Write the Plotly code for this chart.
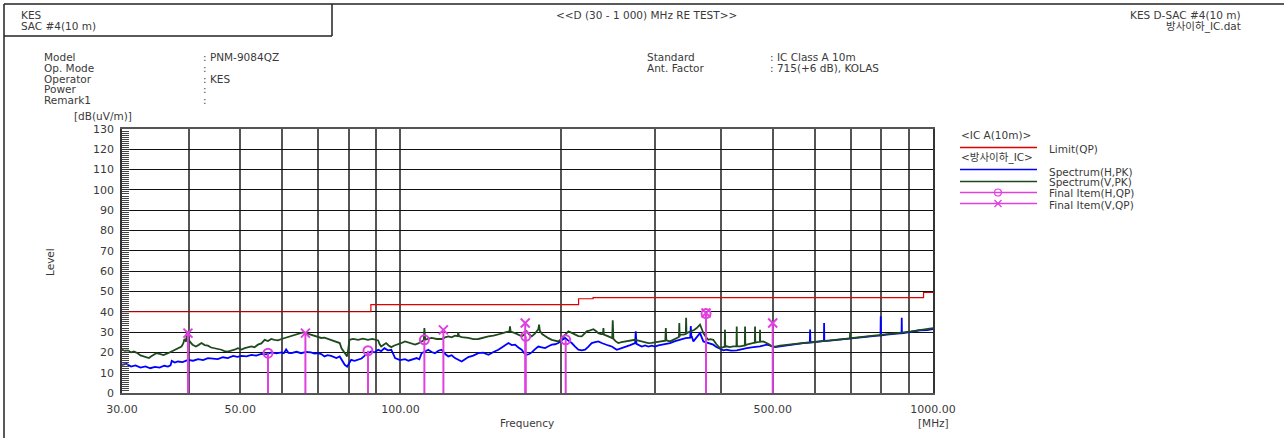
import plotly.graph_objects as go

# ---------------- measurement data ----------------
limit_freq = [30, 88, 216, 230, 960, 1000]
limit_level = [40.0, 43.5, 46.4, 47.0, 49.5, 49.5]

# Spectrum (H, PK) as (MHz, dB(uV/m))
h_spectrum = [
    (30.0, 13.9), (30.6, 14.3), (31.2, 13.0), (31.8, 13.6), (32.5, 12.5), (33.2, 13.1),
    (33.9, 12.2), (34.6, 12.9), (35.3, 12.5), (36.0, 13.4), (36.6, 13.0), (37.0, 13.6),
    (37.2, 15.8), (37.7, 15.0), (38.2, 15.5), (39.0, 15.2), (39.9, 16.3), (40.8, 15.9),
    (41.7, 16.7), (42.6, 16.2), (43.5, 17.2), (44.4, 16.8), (45.4, 16.7), (46.4, 17.6),
    (47.4, 17.2), (48.5, 18.3), (49.4, 17.8), (50.3, 18.3), (51.4, 18.0), (52.5, 18.8),
    (53.6, 18.4), (54.8, 19.3), (56.0, 19.0), (57.2, 20.0), (58.5, 19.5), (59.8, 20.0),
    (60.4, 19.6), (61.0, 21.5), (61.6, 19.8), (62.4, 19.6), (63.8, 20.3), (65.1, 19.6),
    (66.5, 20.2), (67.9, 20.0), (69.0, 19.4), (70.0, 19.6), (71.0, 19.2), (72.0, 18.0),
    (73.0, 18.6), (74.1, 18.3), (75.0, 17.6), (75.8, 17.2), (76.9, 18.0), (77.8, 16.0),
    (78.6, 13.9), (79.4, 13.0), (80.1, 14.5), (80.8, 16.3), (82.0, 15.8), (83.3, 16.3),
    (84.5, 17.0), (85.6, 18.3), (86.9, 19.6), (88.1, 20.5), (89.4, 20.0), (90.8, 21.3),
    (92.0, 20.6), (93.3, 22.1), (94.7, 21.0), (96.1, 21.3), (97.0, 19.0), (97.7, 17.2),
    (99.8, 16.2), (102.0, 16.7), (103.5, 15.9), (105.0, 16.3), (107.3, 17.2), (108.5, 16.6),
    (109.6, 19.6), (111.2, 20.4), (112.8, 21.3), (114.4, 20.2), (116.1, 19.6), (117.8, 20.8),
    (119.5, 21.3), (121.2, 19.3), (123.0, 18.0), (124.8, 18.6), (126.6, 17.2), (128.4, 16.4),
    (130.3, 15.5), (132.2, 16.6), (134.1, 17.7), (137.0, 18.4), (140.0, 19.6), (143.0, 19.9),
    (146.3, 18.8), (149.5, 20.2), (152.7, 21.3), (156.0, 22.9), (159.5, 24.6), (161.8, 23.6),
    (164.1, 23.8), (166.5, 22.4), (168.9, 21.3), (170.7, 19.6), (172.6, 18.8), (174.5, 19.2),
    (176.4, 20.0), (179.0, 21.6), (181.5, 22.9), (184.2, 22.5), (186.9, 22.1), (189.6, 23.0),
    (192.4, 23.8), (195.1, 24.0), (197.9, 24.6), (200.8, 26.0), (203.8, 27.1), (206.7, 25.8),
    (209.7, 24.6), (212.8, 22.8), (215.8, 21.3), (219.0, 21.0), (222.2, 21.3), (225.4, 22.8),
    (228.6, 24.6), (232.0, 25.0), (235.3, 25.4), (238.7, 24.6), (242.2, 23.8), (245.7, 23.4),
    (249.3, 22.9), (252.0, 22.0), (254.8, 21.3), (259.4, 22.0), (264.1, 22.9), (270.0, 23.6),
    (275.8, 24.6), (276.6, 30.4), (277.4, 24.2), (283.9, 22.9), (288.0, 23.4), (292.1, 22.9),
    (296.3, 23.3), (300.6, 22.9), (305.0, 23.5), (309.4, 23.8), (315.0, 24.2), (320.8, 24.6),
    (328.0, 25.5), (335.0, 26.2), (343.0, 27.0), (350.0, 27.2), (350.9, 33.0), (351.8, 27.4),
    (352.3, 27.9), (354.8, 25.4), (360.0, 27.5), (365.2, 29.5), (370.5, 25.4), (378.5, 24.5),
    (386.7, 23.8), (392.0, 22.6), (398.1, 21.6), (404.0, 21.0), (409.7, 21.3), (418.0, 20.9),
    (428.0, 21.0), (437.0, 21.6), (447.0, 22.1), (460.0, 22.6), (473.4, 23.0), (487.3, 23.8),
    (497.9, 23.0), (506.0, 22.6), (516.3, 23.0), (527.0, 23.4), (539.0, 23.8), (555.0, 24.2),
    (570.9, 24.6), (587.0, 24.8), (587.8, 31.2), (588.6, 24.8), (600.0, 25.0), (613.7, 25.4),
    (624.0, 25.6), (624.5, 34.5), (625.0, 25.6), (640.0, 25.8), (659.5, 26.2), (684.0, 26.7),
    (708.8, 27.1), (735.0, 27.4), (761.8, 27.9), (780.0, 28.1), (797.0, 28.3), (797.8, 37.8),
    (798.6, 28.3), (818.8, 28.7), (845.0, 29.0), (873.0, 29.4), (873.6, 37.0), (874.2, 29.4),
    (879.9, 29.5), (910.0, 30.1), (945.6, 30.9), (975.0, 31.0), (1000.0, 31.5),
]

# Spectrum (V, PK) as (MHz, dB(uV/m))
v_spectrum = [
    (30.0, 21.3), (30.4, 20.8), (30.8, 21.0), (31.2, 20.0), (31.6, 20.4), (32.1, 19.6),
    (32.5, 18.5), (33.0, 18.0), (33.4, 17.5), (33.7, 17.2), (34.0, 18.0), (34.4, 18.8),
    (34.8, 19.6), (35.3, 19.3), (35.9, 18.7), (36.6, 19.6), (37.1, 20.3), (37.6, 21.3),
    (38.2, 22.0), (38.8, 22.9), (39.1, 24.4), (39.3, 26.6), (39.6, 25.2), (39.7, 30.4),
    (39.9, 27.0), (40.2, 25.4), (40.7, 23.8), (41.3, 22.9), (41.8, 23.7), (42.3, 24.6),
    (42.9, 23.6), (43.5, 23.3), (44.1, 22.4), (44.8, 22.1), (45.4, 21.6), (46.1, 21.3),
    (46.7, 20.6), (47.4, 20.4), (48.1, 20.9), (48.8, 21.3), (49.5, 22.1), (50.3, 21.4),
    (51.0, 22.1), (51.7, 22.6), (52.5, 22.9), (53.2, 22.5), (54.0, 23.8), (54.8, 24.4),
    (55.6, 26.2), (56.4, 25.6), (57.2, 26.6), (58.0, 26.2), (58.9, 25.9), (59.8, 26.6),
    (60.6, 27.1), (61.5, 27.6), (62.4, 27.9), (63.5, 28.6), (64.7, 29.5), (65.6, 29.8),
    (66.5, 29.5), (67.7, 28.8), (68.9, 28.2), (70.0, 27.6), (71.0, 27.1), (72.0, 27.3),
    (73.1, 26.6), (74.1, 26.0), (75.2, 25.4), (76.0, 25.0), (76.9, 24.6), (77.5, 22.0),
    (78.6, 19.6), (79.4, 18.0), (79.8, 21.5), (80.2, 26.2), (81.5, 26.6), (83.3, 26.2),
    (85.0, 26.8), (86.9, 26.2), (88.5, 26.6), (90.8, 25.9), (91.4, 24.0), (92.0, 22.9),
    (93.0, 23.8), (94.0, 24.6), (95.0, 23.4), (96.1, 22.6), (97.4, 23.4), (98.6, 23.8),
    (100.0, 24.4), (102.0, 25.4), (104.2, 24.6), (106.5, 23.8), (108.0, 24.4), (109.6, 25.5),
    (110.6, 26.0), (110.9, 32.0), (111.3, 26.2), (112.8, 26.8), (114.5, 27.1), (117.0, 26.6),
    (119.5, 26.6), (121.2, 27.4), (123.0, 27.9), (124.8, 27.4), (126.6, 28.2), (128.0, 28.0),
    (128.4, 29.8), (128.8, 28.0), (130.3, 27.5), (134.1, 27.1), (137.0, 26.5), (140.0, 26.6),
    (143.0, 27.4), (146.3, 27.9), (149.5, 28.3), (152.7, 28.7), (155.0, 29.3), (157.2, 29.8),
    (160.2, 30.4), (160.6, 32.8), (161.0, 30.2), (164.1, 29.5), (166.5, 28.5), (168.9, 27.9),
    (171.0, 28.8), (172.6, 30.4), (174.5, 28.8), (176.4, 27.9), (179.0, 29.4), (181.5, 31.4),
    (182.1, 33.7), (182.7, 30.6), (184.5, 29.0), (186.9, 27.9), (189.6, 27.0), (192.4, 26.2),
    (195.1, 25.8), (197.9, 25.4), (200.0, 26.4), (202.3, 27.9), (204.5, 29.4), (206.7, 30.4),
    (209.7, 29.6), (212.8, 28.7), (215.8, 28.0), (219.0, 27.9), (221.4, 29.0), (223.8, 30.4),
    (227.0, 30.8), (230.3, 31.4), (232.8, 30.5), (235.3, 29.5), (238.0, 29.0), (240.0, 29.0),
    (240.5, 32.0), (241.0, 28.8), (245.7, 27.9), (249.8, 27.0), (250.4, 35.8), (251.1, 26.6),
    (253.8, 25.4), (256.5, 24.6), (260.0, 25.0), (264.1, 25.4), (270.0, 25.8), (275.8, 26.2),
    (280.0, 25.8), (283.9, 25.4), (288.0, 25.0), (292.1, 24.6), (296.3, 24.7), (300.6, 24.9),
    (305.0, 25.2), (309.4, 25.4), (314.3, 25.8), (315.0, 32.0), (315.7, 25.9), (320.8, 25.4),
    (325.5, 26.2), (330.3, 27.1), (333.4, 27.6), (333.9, 34.5), (334.4, 27.8), (335.0, 28.7),
    (340.0, 28.8), (343.4, 29.0), (343.9, 37.0), (344.4, 29.2), (344.8, 29.5), (348.0, 30.0),
    (350.9, 30.4), (352.3, 30.4), (356.0, 31.0), (360.0, 32.0), (363.0, 33.0), (365.2, 33.7),
    (368.0, 31.5), (370.5, 29.5), (374.0, 27.8), (378.5, 26.2), (382.0, 26.5), (386.7, 26.2),
    (392.0, 24.0), (398.1, 22.1), (404.0, 22.6), (406.3, 22.8), (406.8, 31.2), (407.3, 22.8),
    (409.7, 23.0), (415.0, 22.6), (421.8, 23.0), (427.5, 23.0), (428.0, 32.8), (428.5, 23.0),
    (434.2, 23.0), (440.0, 23.2), (443.2, 23.4), (443.7, 32.8), (444.2, 23.5), (447.0, 23.8),
    (453.0, 24.2), (460.0, 24.6), (462.8, 24.8), (463.3, 32.8), (463.8, 24.8), (468.0, 25.0),
    (473.0, 25.2), (473.4, 31.2), (473.8, 25.2), (480.0, 25.4), (487.3, 24.6), (492.0, 24.0),
    (497.9, 23.0), (506.0, 22.8), (516.3, 23.3), (527.0, 23.6), (539.0, 23.8), (555.0, 24.2),
    (570.9, 24.6), (590.0, 25.0), (613.7, 25.4), (636.0, 25.8), (659.5, 26.2), (680.0, 26.6),
    (698.3, 26.9), (698.8, 29.9), (699.3, 26.9), (708.8, 27.1), (735.0, 27.5), (761.8, 27.9),
    (790.0, 28.3), (818.8, 28.7), (850.0, 29.2), (879.9, 29.8), (910.0, 30.3), (945.6, 30.9),
    (975.0, 31.4), (1000.0, 32.0),
]

# Final (QP) items
final_h_freq = [56.4, 86.9, 110.9, 171.9, 204.3, 374.8]
final_h_level = [19.6, 20.8, 26.2, 27.9, 26.2, 39.1]
final_v_freq = [39.9, 66.3, 120.4, 171.5, 374.8, 500.0]
final_v_level = [29.5, 29.5, 31.1, 34.5, 39.4, 34.5]

x_grid = [30, 40, 50, 60, 70, 80, 90, 100, 200, 300, 400, 500, 600, 700, 800, 900, 1000]
x_labels = {30: "30.00", 50: "50.00", 100: "100.00", 500: "500.00", 1000: "1000.00"}
y_ticks = list(range(0, 131, 10))

# ---------------- styling ----------------
FONT = "DejaVu Sans, Noto Sans CJK KR, sans-serif"
TXT = "#3a3a3a"
MAGENTA = "#E040E0"
BLUE = "#0000FF"
GREEN = "#1E4A1E"
RED = "#E00000"

W, H = 1284, 438
L, R, T, B = 122, 933, 129, 393


def px(x):
    return (x - L) / (R - L)


def py(y):
    return (B - y) / (B - T)


fig = go.Figure()

hf, hl = zip(*h_spectrum)
vf, vl = zip(*v_spectrum)

fig.add_trace(go.Scatter(x=hf, y=hl, mode="lines", line=dict(color=BLUE, width=1.8),
                         name="Spectrum(H,PK)"))
fig.add_trace(go.Scatter(x=vf, y=vl, mode="lines", line=dict(color=GREEN, width=1.8),
                         name="Spectrum(V,PK)"))
fig.add_trace(go.Scatter(x=limit_freq, y=limit_level, mode="lines", line_shape="hv",
                         line=dict(color=RED, width=1.2), name="Limit(QP)"))


def stems(freqs, levels):
    xs, ys = [], []
    for f, v in zip(freqs, levels):
        xs += [f, f, None]
        ys += [0, v, None]
    return xs, ys


for freqs, levels, sym, name in [
    (final_h_freq, final_h_level, "circle-open", "Final Item(H,QP)"),
    (final_v_freq, final_v_level, "x-thin-open", "Final Item(V,QP)"),
]:
    sx, sy = stems(freqs, levels)
    fig.add_trace(go.Scatter(x=sx, y=sy, mode="lines", line=dict(color=MAGENTA, width=2),
                             showlegend=False, hoverinfo="skip"))
    fig.add_trace(go.Scatter(x=freqs, y=levels, mode="markers", name=name,
                             marker=dict(symbol=sym, size=9, color=MAGENTA,
                                         line=dict(color=MAGENTA, width=2))))

fig.update_xaxes(
    type="log", range=[1.4771213, 3.0],
    tickmode="array", tickvals=x_grid,
    ticktext=[x_labels.get(v, "") for v in x_grid],
    showgrid=True, gridcolor="#555555", gridwidth=1.6,
    showline=True, linecolor="#555555", linewidth=1.5, mirror=True,
    ticks="", ticklabelstandoff=5,
    tickfont=dict(family=FONT, size=11, color=TXT),
    zeroline=False,
)
fig.update_yaxes(
    range=[0, 130], tickmode="array", tickvals=y_ticks,
    showgrid=True, gridcolor="#111111", gridwidth=1,
    showline=True, linecolor="#333333", linewidth=1.5, mirror=True,
    ticks="inside", ticklen=8, tickcolor="#333333", tickwidth=1,
    minor=dict(dtick=1, ticks="inside", ticklen=7, tickcolor="#444444", tickwidth=1, showgrid=False),
    ticklabelstandoff=4,
    tickfont=dict(family=FONT, size=11, color=TXT),
    zeroline=False,
)

shapes = []
ann = []


def text(x, y, s, anchor="left", size=11, family=FONT, angle=0):
    ann.append(dict(x=px(x), y=py(y), xref="paper", yref="paper", text=s, showarrow=False,
                    xanchor=anchor, yanchor="middle", textangle=angle, borderpad=0,
                    font=dict(family=family, size=size, color=TXT)))


def hline(x0, x1, y, color, width=1):
    shapes.append(dict(type="line", xref="paper", yref="paper", x0=px(x0), x1=px(x1),
                       y0=py(y), y1=py(y), line=dict(color=color, width=width)))


def vline(x, y0, y1, color, width=1):
    shapes.append(dict(type="line", xref="paper", yref="paper", x0=px(x), x1=px(x),
                       y0=py(y0), y1=py(y1), line=dict(color=color, width=width)))


# page frame and header box
hline(4, W, 4, "#222222", 1.5)
vline(4, 4, H, "#222222", 1.5)
hline(4, 332, 36, "#222222", 1.5)
vline(332, 4, 36, "#222222", 1.5)

# header texts
text(20, 15, "KES", size=10.5)
text(20, 26, "SAC #4(10 m)", size=10.5)
text(646, 15, "&lt;&lt;D (30 - 1 000) MHz RE TEST&gt;&gt;", anchor="center", size=10.5)
text(1242, 15, "KES D-SAC #4(10 m)", anchor="right", size=10.5)
text(1242, 26, "방사이하_IC.dat", anchor="right", size=10.5)

info_rows = [("Model", ": PNM-9084QZ"), ("Op. Mode", ":"), ("Operator", ": KES"),
             ("Power", ":"), ("Remark1", ":")]
for i, (k, v) in enumerate(info_rows):
    yy = 57 + i * 10.8
    text(43, yy, k, size=10.5)
    text(202, yy, v, size=10.5)

text(646, 57, "Standard", size=10.5)
text(646, 67.8, "Ant. Factor", size=10.5)
text(769, 57, ": IC Class A 10m", size=10.5)
text(769, 67.8, ": 715(+6 dB), KOLAS", size=10.5)

# axis captions
text(73, 116, "[dB(uV/m)]", size=10.5)
text(50, 262, "Level", anchor="center", angle=-90, size=10.5)
text(527, 423, "Frequency", anchor="center", size=10.5)
text(933, 423, "[MHz]", anchor="center", size=10.5)

# legend
text(960, 135, "&lt;IC A(10m)&gt;", size=10.5)
hline(960, 1037, 147.5, RED, 1.5)
text(1048, 148.5, "Limit(QP)", size=10.5)
text(960, 157.5, "&lt;방사이하_IC&gt;", size=10.5)
hline(960, 1037, 169.5, BLUE, 1.5)
text(1048, 171.5, "Spectrum(H,PK)", size=10.5)
hline(960, 1037, 181.5, GREEN, 1.5)
text(1048, 182, "Spectrum(V,PK)", size=10.5)
hline(960, 1037, 192.5, MAGENTA, 1.5)
text(1048, 193, "Final Item(H,QP)", size=10.5)
hline(960, 1037, 203.5, MAGENTA, 1.5)
text(1048, 205, "Final Item(V,QP)", size=10.5)
shapes.append(dict(type="circle", xref="paper", yref="paper",
                   x0=px(994.5), x1=px(1001.5), y0=py(189), y1=py(196),
                   line=dict(color=MAGENTA, width=1.2)))
for d in (-1, 1):
    shapes.append(dict(type="line", xref="paper", yref="paper",
                       x0=px(994.5), x1=px(1001.5), y0=py(203.5 - 3.5 * d), y1=py(203.5 + 3.5 * d),
                       line=dict(color=MAGENTA, width=1.2)))

fig.update_layout(
    width=W, height=H,
    margin=dict(l=L, r=W - R, t=T, b=H - B, pad=0),
    paper_bgcolor="white", plot_bgcolor="white",
    showlegend=False,
    shapes=shapes, annotations=ann,
    font=dict(family=FONT, size=11, color=TXT),
)

fig.write_html("out.html")
